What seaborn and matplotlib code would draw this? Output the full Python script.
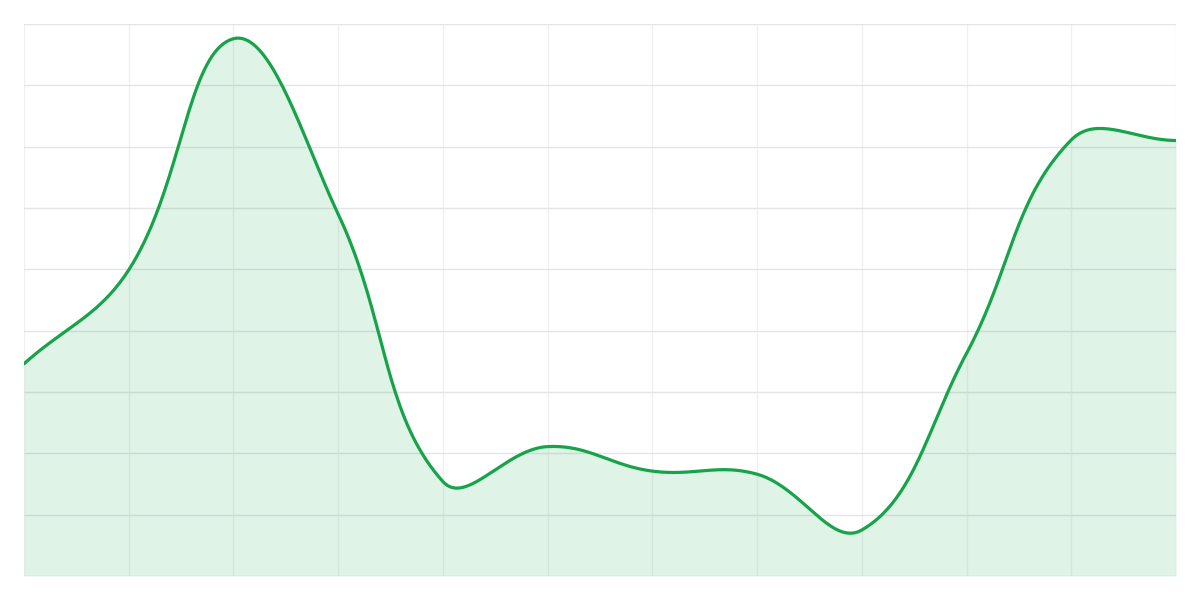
import numpy as np
import pandas as pd
import matplotlib
matplotlib.use("Agg")
import matplotlib.pyplot as plt
import seaborn as sns

# Data (12 points, y scale 0-90)
x_index = list(range(12))
values = [34.6, 49.9, 87.6, 59.0, 15.4, 21.1, 17.1, 16.6, 7.5, 36.3, 71.1, 71.0]
y_max = 90
y_grid_step = 10

line_color = "#16a34a"
fill_color = "#16a34a"

sns.set_style("white")

fig = plt.figure(figsize=(12, 6), dpi=100)
ax = fig.add_axes([24 / 1200, 24 / 600, 1152 / 1200, 552 / 600])


def spline_curve(xs, ys, tension=0.4, sx=1.0, sy=1.0, steps=40):
    """Cubic bezier smoothing like a tension-based chart spline (distances in pixel space)."""
    xs = np.asarray(xs, dtype=float)
    ys = np.asarray(ys, dtype=float)
    n = len(xs)
    cps = []
    for i in range(n):
        p = np.array([xs[i], ys[i]])
        prev = np.array([xs[max(i - 1, 0)], ys[max(i - 1, 0)]])
        nxt = np.array([xs[min(i + 1, n - 1)], ys[min(i + 1, n - 1)]])
        d01 = np.hypot((p[0] - prev[0]) * sx, (p[1] - prev[1]) * sy)
        d12 = np.hypot((nxt[0] - p[0]) * sx, (nxt[1] - p[1]) * sy)
        tot = d01 + d12
        fa = tension * d01 / tot if tot else 0
        fb = tension * d12 / tot if tot else 0
        c_prev = p - fa * (nxt - prev)
        c_next = p + fb * (nxt - prev)
        cps.append((c_prev, c_next))
    out_x, out_y = [], []
    t = np.linspace(0, 1, steps)
    for i in range(n - 1):
        p0 = np.array([xs[i], ys[i]])
        p3 = np.array([xs[i + 1], ys[i + 1]])
        p1 = cps[i][1]
        p2 = cps[i + 1][0]
        pts = ((1 - t) ** 3)[:, None] * p0 + (3 * (1 - t) ** 2 * t)[:, None] * p1 \
            + (3 * (1 - t) * t ** 2)[:, None] * p2 + (t ** 3)[:, None] * p3
        if i > 0:
            pts = pts[1:]
        out_x.extend(pts[:, 0])
        out_y.extend(pts[:, 1])
    return np.array(out_x), np.array(out_y)


sx = 1152 / (len(x_index) - 1)
sy = 552 / y_max
smooth_x, smooth_y = spline_curve(x_index, values, tension=0.4, sx=sx, sy=sy)
curve = pd.DataFrame({"x": smooth_x, "y": smooth_y})

# grid
for gx in x_index:
    ax.axvline(gx, color="#f0f0f0", lw=1, zorder=0)
for gy in np.arange(0, y_max + 1, y_grid_step):
    ax.axhline(gy, color="#e5e5e5", lw=1, zorder=0)

ax.fill_between(curve["x"], curve["y"], 0, color=fill_color, alpha=0.13, lw=0, zorder=1)
sns.lineplot(data=curve, x="x", y="y", ax=ax, color=line_color, lw=2.3,
             sort=False, estimator=None, zorder=3)

ax.set_xlim(0, len(x_index) - 1)
ax.set_ylim(0, y_max)
ax.set_xticks([])
ax.set_yticks([])
ax.set_xlabel("")
ax.set_ylabel("")
for side in ax.spines.values():
    side.set_visible(False)

plt.savefig("out.png", dpi=100)
plt.close()
